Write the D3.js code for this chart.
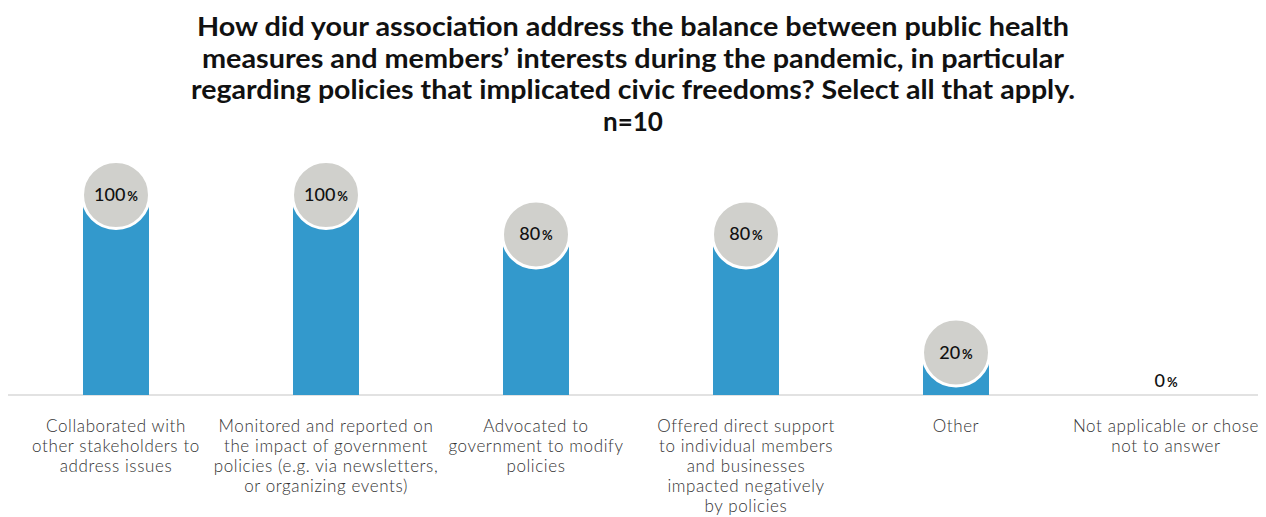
<!DOCTYPE html>
<html><head><meta charset="utf-8">
<script src="https://cdn.jsdelivr.net/npm/d3@7"></script>
<style>body{margin:0;background:#fff}svg{display:block}</style>
</head><body>
<script>
const titleLines = [
  "How did your association address the balance between public health",
  "measures and members\u2019 interests during the pandemic, in particular",
  "regarding policies that implicated civic freedoms? Select all that apply.",
  "n=10"
];
const categories = [
  "Collaborated with other stakeholders to address issues",
  "Monitored and reported on the impact of government policies (e.g. via newsletters, or organizing events)",
  "Advocated to government to modify policies",
  "Offered direct support to individual members and businesses impacted negatively by policies",
  "Other",
  "Not applicable or chose not to answer"
];
const categoryLines = [
  ["Collaborated with", "other stakeholders to", "address issues"],
  ["Monitored and reported on", "the impact of government", "policies (e.g. via newsletters,", "or organizing events)"],
  ["Advocated to", "government to modify", "policies"],
  ["Offered direct support", "to individual members", "and businesses", "impacted negatively", "by policies"],
  ["Other"],
  ["Not applicable or chose", "not to answer"]
];
const values = [100, 100, 80, 80, 20, 0];

const W = 1266, H = 517;
const svg = d3.select("body").append("svg").attr("width", W).attr("height", H);

const x = d3.scalePoint().domain(categories).range([116, 1166]);
const y = d3.scaleLinear().domain([0, 100]).range([395, 198]);
const barW = 66, r = 33.5;

// title
const titleWidths = [872, 862, 884, null];
svg.append("g").selectAll("text").data(titleLines).join("text")
  .attr("x", W / 2)
  .attr("y", (d, i) => 36 + i * 31.5)
  .attr("text-anchor", "middle")
  .attr("font-family", "Lato, 'Noto Sans', sans-serif")
  .attr("font-weight", 700)
  .attr("font-size", 26)
  .attr("fill", "#111")
  .each(function (d, i) {
    if (titleWidths[i]) d3.select(this).attr("textLength", titleWidths[i]).attr("lengthAdjust", "spacingAndGlyphs");
  })
  .text(d => d);

// baseline
svg.append("line").attr("x1", 8).attr("x2", 1258).attr("y1", y(0)).attr("y2", y(0))
  .attr("stroke", "#d9d9d9").attr("stroke-width", 1.5);

const data = categories.map((c, i) => ({ c, v: values[i], lines: categoryLines[i] }));

// bars
svg.append("g").selectAll("rect").data(data.filter(d => d.v > 0)).join("rect")
  .attr("x", d => x(d.c) - barW / 2)
  .attr("y", d => y(d.v))
  .attr("width", barW)
  .attr("height", d => y(0) - y(d.v))
  .attr("fill", "#3399cc");

// circles
svg.append("g").selectAll("circle").data(data.filter(d => d.v > 0)).join("circle")
  .attr("cx", d => x(d.c))
  .attr("cy", d => y(d.v) - 3)
  .attr("r", r)
  .attr("fill", "#d0d0cc")
  .attr("stroke", "#fff").attr("stroke-width", 3);

// value labels
const vl = svg.append("g").selectAll("text").data(data).join("text")
  .attr("x", d => x(d.c))
  .attr("y", d => d.v > 0 ? y(d.v) + 3 : y(0) - 8)
  .attr("text-anchor", "middle")
  .attr("font-family", "Lato, 'Noto Sans', sans-serif")
  .attr("font-weight", 500)
  .attr("font-size", 18)
  .attr("fill", "#111");
vl.append("tspan").text(d => d.v);
vl.append("tspan").attr("font-size", 13).attr("font-weight", 700).attr("dx", 2).text("%");

// category labels
const cl = svg.append("g").selectAll("text").data(data).join("text")
  .attr("text-anchor", "middle")
  .attr("font-family", "Lato, 'Noto Sans', sans-serif")
  .attr("font-weight", 300)
  .attr("font-size", 17)
  .attr("letter-spacing", 0.6)
  .attr("fill", "#333");
cl.selectAll("tspan").data(d => d.lines.map(l => ({ l, c: d.c }))).join("tspan")
  .attr("x", d => x(d.c))
  .attr("y", (d, i) => 432 + i * 20)
  .text(d => d.l);
</script>
</body></html>
